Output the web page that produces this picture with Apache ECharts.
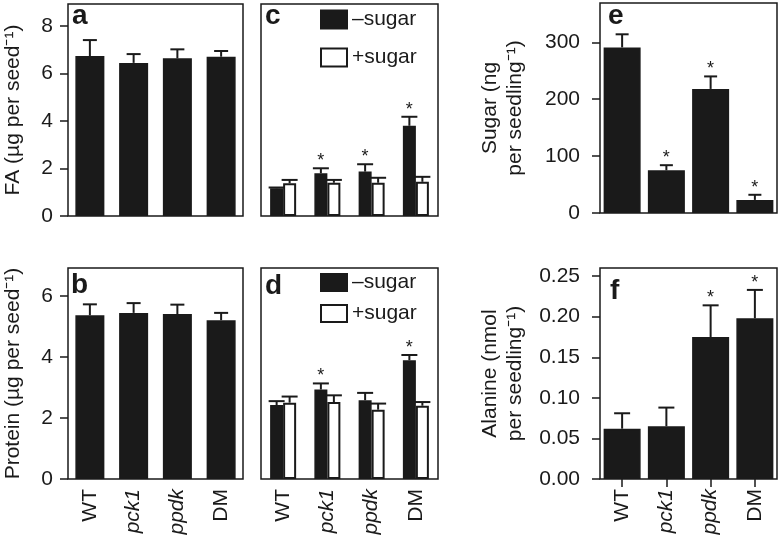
<!DOCTYPE html>
<html><head><meta charset="utf-8">
<script src="https://cdn.jsdelivr.net/npm/echarts@6/dist/echarts.min.js"></script>
<style>html,body{margin:0;padding:0;background:#fff}#c{width:781px;height:545px}</style>
</head><body><div id="c"></div>
<script>
// ---- data ----
const categories = ['WT', 'pck1', 'ppdk', 'DM'];
const italicCats = ['pck1', 'ppdk'];
const NEG = '\u2013sugar';
const POS = '+sugar';

// a: FA per seed
const faSeedMean = [6.74, 6.45, 6.64, 6.71];
const faSeedErr  = [0.67, 0.37, 0.38, 0.24];
// b: protein per seed
const proteinSeedMean = [5.36, 5.44, 5.40, 5.20];
const proteinSeedErr  = [0.36, 0.32, 0.31, 0.24];
// c: FA seedlings
const faMinusMean = [1.17, 1.80, 1.87, 3.80];
const faMinusErr  = [0.03, 0.21, 0.31, 0.38];
const faMinusStar = [0, 1, 1, 1];
const faPlusMean  = [1.38, 1.40, 1.40, 1.44];
const faPlusErr   = [0.14, 0.12, 0.21, 0.21];
// d: protein seedlings
const protMinusMean = [2.42, 2.93, 2.58, 3.89];
const protMinusErr  = [0.13, 0.20, 0.24, 0.17];
const protMinusStar = [0, 1, 0, 1];
const protPlusMean  = [2.50, 2.52, 2.27, 2.40];
const protPlusErr   = [0.20, 0.22, 0.20, 0.12];
// e: sugar
const sugarMean = [291, 75, 218, 23];
const sugarErr  = [23, 9, 22, 9];
const sugarStar = [0, 1, 1, 1];
// f: alanine
const alanineMean = [0.062, 0.065, 0.175, 0.198];
const alanineErr  = [0.019, 0.023, 0.039, 0.035];
const alanineStar = [0, 0, 1, 1];

// tick labels
const faTicks = [0, 2, 4, 6, 8];
const proteinTicks = [0, 2, 4, 6];
const sugarTicks = [0, 100, 200, 300];
const alanineTicks = [0, 0.05, 0.10, 0.15, 0.20, 0.25];

// ---- style ----
const INK = '#1a1a1a';
const FONT = '"Liberation Sans", Arial, Helvetica, sans-serif';

const chart = echarts.init(document.getElementById('c'), null, {renderer: 'canvas'});

const gridBox = {show: true, borderColor: INK, borderWidth: 1.5, backgroundColor: 'transparent'};
const grids = [
  Object.assign({left: 65, top: 4, width: 178, height: 212}, gridBox),   // a
  Object.assign({left: 65, top: 268, width: 178, height: 211}, gridBox), // b
  Object.assign({left: 261, top: 4, width: 177, height: 212}, gridBox),  // c
  Object.assign({left: 261, top: 268, width: 177, height: 211}, gridBox),// d
  Object.assign({left: 600, top: 3, width: 177, height: 210}, gridBox),  // e
  Object.assign({left: 600, top: 268, width: 177, height: 211}, gridBox) // f
];

function xAxis(gi, showLabels, showTicks) {
  return {
    type: 'category', gridIndex: gi, data: categories, boundaryGap: true,
    axisLine: {show: false},
    axisTick: {show: showTicks, alignWithLabel: true, length: 8, lineStyle: {color: INK, width: 1.5}},
    splitLine: {show: false},
    axisLabel: {
      show: showLabels, rotate: 90, margin: 10, fontSize: 21, color: INK, fontFamily: FONT,
      formatter: v => italicCats.includes(v) ? '{i|' + v + '}' : v,
      rich: {i: {fontStyle: 'italic', fontSize: 21, color: INK, fontFamily: FONT}}
    }
  };
}

function yAxis(gi, max, ticks, opts) {
  opts = opts || {};
  return {
    type: 'value', gridIndex: gi, min: 0, max: max,
    axisLine: {show: false},
    splitLine: {show: false},
    axisTick: {show: !!ticks, length: 8, customValues: ticks || [], lineStyle: {color: INK, width: 1.5}},
    axisLabel: {
      show: !!ticks, customValues: ticks || [], margin: opts.margin || 15,
      fontSize: 21, color: INK, fontFamily: FONT,
      formatter: opts.fmt || (v => String(v))
    },
    name: opts.name || '', nameLocation: 'middle', nameRotate: 90, nameGap: opts.nameGap || 40,
    nameTextStyle: {fontSize: 21, color: INK, fontFamily: FONT, lineHeight: 25, align: 'center'}
  };
}

const darkBar = {color: INK, borderColor: INK, borderWidth: 1.5};
const whiteBar = {color: '#ffffff', borderColor: INK, borderWidth: 2};

function barSeries(name, gi, data, width, style) {
  return {type: 'bar', name: name, xAxisIndex: gi, yAxisIndex: gi, data: data,
    barWidth: width, barGap: '0%', itemStyle: style, silent: true, z: 2};
}

function errSeries(gi, means, errs, stars, offset, capW) {
  return {
    type: 'custom', xAxisIndex: gi, yAxisIndex: gi, silent: true, z: 5,
    encode: {x: 0, y: 1},
    data: means.map((m, i) => [i, m, m + errs[i], stars ? stars[i] : 0]),
    renderItem: function (params, api) {
      const base = api.coord([api.value(0), api.value(1)]);
      const top = api.coord([api.value(0), api.value(2)]);
      const x = base[0] + offset;
      const children = [
        {type: 'line', shape: {x1: x, y1: base[1], x2: x, y2: top[1]}, style: {stroke: INK, lineWidth: 2}},
        {type: 'line', shape: {x1: x - capW / 2, y1: top[1], x2: x + capW / 2, y2: top[1]}, style: {stroke: INK, lineWidth: 2}}
      ];
      if (api.value(3)) {
        children.push({type: 'text', style: {text: '*', x: x, y: top[1] + 2, align: 'center', verticalAlign: 'bottom',
          font: '18px ' + FONT, fill: INK}});
      }
      return {type: 'group', children: children};
    }
  };
}

const letters = [
  ['a', 72, 16], ['b', 71, 285], ['c', 265, 16], ['d', 265, 286], ['e', 608, 16], ['f', 610, 291]
];

const option = {
  animation: false,
  backgroundColor: '#ffffff',
  textStyle: {fontFamily: FONT},
  grid: grids,
  xAxis: [
    xAxis(0, false, false), xAxis(1, true, false),
    xAxis(2, false, false), xAxis(3, true, false),
    xAxis(4, false, false), xAxis(5, true, true)
  ],
  yAxis: [
    yAxis(0, 8.93, faTicks, {name: 'FA (\u00b5g per seed\u207b\u00b9)', nameGap: 42}),
    yAxis(1, 6.91, proteinTicks, {name: 'Protein (\u00b5g per seed\u207b\u00b9)', nameGap: 42}),
    yAxis(2, 8.93, null),
    yAxis(3, 6.91, null),
    yAxis(4, 369, sugarTicks, {name: 'Sugar (ng\nper seedling\u207b\u00b9)', nameGap: 72, margin: 20}),
    yAxis(5, 0.26, alanineTicks, {name: 'Alanine (nmol\nper seedling\u207b\u00b9)', nameGap: 72, margin: 20,
      fmt: v => v.toFixed(2)})
  ],
  legend: [
    {left: 320, top: 9, orient: 'vertical', padding: 0, itemWidth: 26, itemHeight: 18, itemGap: 17,
      icon: 'rect', data: [NEG, POS], selectedMode: false,
      textStyle: {fontSize: 21, color: INK, fontFamily: FONT}},
    {left: 320, top: 272, orient: 'vertical', padding: 0, itemWidth: 26, itemHeight: 17, itemGap: 10,
      icon: 'rect', data: [NEG, POS], selectedMode: false,
      textStyle: {fontSize: 21, color: INK, fontFamily: FONT}}
  ],
  graphic: letters.map(l => ({
    type: 'text', left: l[1], top: l[2] - 14, silent: true,
    style: {text: l[0], font: 'bold 28px ' + FONT, fill: INK}
  })),
  series: [
    barSeries('FA seed', 0, faSeedMean, 29, darkBar),
    errSeries(0, faSeedMean, faSeedErr, null, 0, 14),
    barSeries('Protein seed', 1, proteinSeedMean, 29, darkBar),
    errSeries(1, proteinSeedMean, proteinSeedErr, null, 0, 14),
    barSeries(NEG, 2, faMinusMean, 13, darkBar),
    barSeries(POS, 2, faPlusMean, 13, whiteBar),
    errSeries(2, faMinusMean, faMinusErr, faMinusStar, -6.5, 16),
    errSeries(2, faPlusMean, faPlusErr, null, 6.5, 16),
    barSeries(NEG, 3, protMinusMean, 13, darkBar),
    barSeries(POS, 3, protPlusMean, 13, whiteBar),
    errSeries(3, protMinusMean, protMinusErr, protMinusStar, -6.5, 16),
    errSeries(3, protPlusMean, protPlusErr, null, 6.5, 16),
    barSeries('Sugar', 4, sugarMean, 37, darkBar),
    errSeries(4, sugarMean, sugarErr, sugarStar, 0, 13),
    barSeries('Alanine', 5, alanineMean, 37, darkBar),
    errSeries(5, alanineMean, alanineErr, alanineStar, 0, 16)
  ]
};
chart.setOption(option);
</script>
</body></html>
